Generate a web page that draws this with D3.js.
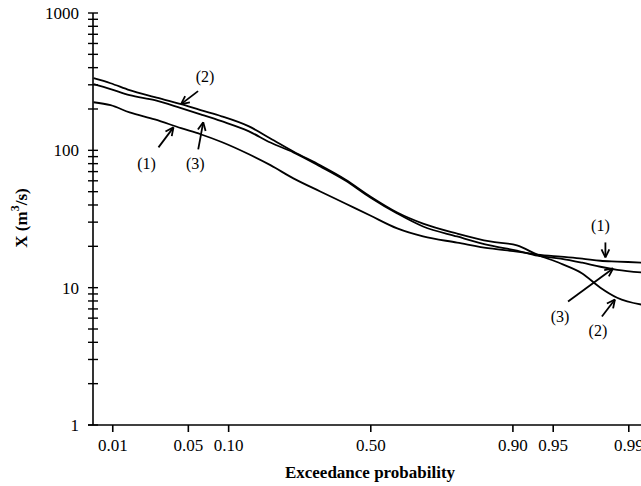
<!DOCTYPE html>
<html>
<head>
<meta charset="utf-8">
<script src="https://cdn.jsdelivr.net/npm/d3@7"></script>
<style>
	body { margin: 0; background: #fff; }
	text { font-family: 'Liberation Serif', 'Times New Roman', serif; }
</style>
</head>
<body>
<div id="chart"></div>
<script>
// exceedance probability of each plotted point
let prob = [0.0063, 0.0096, 0.015, 0.026, 0.044, 0.063, 0.09, 0.136, 0.184, 0.244, 0.326, 0.411,
	0.5, 0.596, 0.683, 0.783, 0.86, 0.907, 0.934, 0.957, 0.972, 0.981, 0.987, 0.993];
// X (m3/s) for each curve
let series1 = [224, 213, 189, 168, 145, 131, 115, 94, 78, 62.5, 50.2, 41.0,
	33.5, 27.0, 23.6, 21.3, 19.3, 18.3, 17.4, 16.8, 16.3, 15.7, 15.5, 15.2];
let series2 = [335, 308, 274, 244, 217, 196, 177, 150, 122, 98, 77.8, 61.4,
	46.2, 35.3, 29.3, 24.8, 21.7, 20.3, 17.4, 15.0, 12.7, 10.0, 8.45, 7.5];
let series3 = [303, 279, 252, 232, 203, 183, 163, 138, 114, 96.7, 76.4, 60.4,
	45.4, 34.7, 27.9, 23.6, 20.3, 18.6, 17.1, 16.3, 15.2, 14.2, 13.5, 12.9];

let xTickProbs = [0.01, 0.05, 0.10, 0.50, 0.90, 0.95, 0.99];
let xTickLabels = ['0.01', '0.05', '0.10', '0.50', '0.90', '0.95', '0.99'];
let yLabels = [1, 10, 100, 1000];

// curve labels: name, anchor on curve (prob, X), tail offset, label offset (px)
let notes = [
	{ name: '(2)', p: 0.044, v: 217, tail: [17, -13], lab: [24, -27] },
	{ name: '(1)', p: 0.038, v: 147, tail: [-15, 20], lab: [-27, 37] },
	{ name: '(3)', p: 0.066, v: 160, tail: [-5, 27], lab: [-8, 42] },
	{ name: '(1)', p: 0.983, v: 16.6, tail: [0, -15], lab: [-5, -31] },
	{ name: '(3)', p: 0.9857, v: 13.8, tail: [-45, 33], lab: [-53, 49] },
	{ name: '(2)', p: 0.9863, v: 8.2, tail: [-13, 17], lab: [-17, 31] }
];

// inverse standard normal (Acklam)
function probit(p) {
	const a = [-3.969683028665376e+01, 2.209460984245205e+02, -2.759285104469687e+02, 1.383577518672690e+02, -3.066479806614716e+01, 2.506628277459239e+00];
	const b = [-5.447609879822406e+01, 1.615858368580409e+02, -1.556989798598866e+02, 6.680131188771972e+01, -1.328068155288572e+01];
	const c = [-7.784894002430293e-03, -3.223964580411365e-01, -2.400758277161838e+00, -2.549732539343734e+00, 4.374664141464968e+00, 2.938163982698783e+00];
	const d = [7.784695709041462e-03, 3.224671290700398e-01, 2.445134137142996e+00, 3.754408661907416e+00];
	const pl = 0.02425;
	let q, r;
	if (p < pl) {
		q = Math.sqrt(-2 * Math.log(p));
		return (((((c[0]*q+c[1])*q+c[2])*q+c[3])*q+c[4])*q+c[5]) / ((((d[0]*q+d[1])*q+d[2])*q+d[3])*q+1);
	}
	if (p <= 1 - pl) {
		q = p - 0.5; r = q * q;
		return (((((a[0]*r+a[1])*r+a[2])*r+a[3])*r+a[4])*r+a[5])*q / (((((b[0]*r+b[1])*r+b[2])*r+b[3])*r+b[4])*r+1);
	}
	q = Math.sqrt(-2 * Math.log(1 - p));
	return -(((((c[0]*q+c[1])*q+c[2])*q+c[3])*q+c[4])*q+c[5]) / ((((d[0]*q+d[1])*q+d[2])*q+d[3])*q+1);
}

let svgWidth = 641, svgHeight = 486;
let svg = d3.select('#chart').append('svg')
	.attr('width', svgWidth)
	.attr('height', svgHeight);

// normal probability scale on x, log scale on y
let x = d3.scaleLinear()
	.domain([-2.5, 2.45])
	.range([93, 642]);
let y = d3.scaleLog()
	.domain([1, 1000])
	.range([425, 13]);

let px = p => x(probit(p));

// y axis with crossing ticks
let yAxis = svg.append('g').classed('y-axis', true);
yAxis.append('line')
	.attr('x1', 93).attr('x2', 93)
	.attr('y1', y(1)).attr('y2', y(1000))
	.attr('stroke', 'black')
	.attr('stroke-width', 1.6);
yAxis.selectAll('line.tick')
	.data(y.ticks())
	.enter()
	.append('line')
	.classed('tick', true)
	.attr('x1', 88).attr('x2', 98)
	.attr('y1', d => y(d)).attr('y2', d => y(d))
	.attr('stroke', 'black')
	.attr('stroke-width', 1.4);
yAxis.selectAll('text')
	.data(yLabels)
	.enter()
	.append('text')
	.attr('x', 79)
	.attr('y', d => y(d) + 6)
	.attr('text-anchor', 'end')
	.attr('font-size', '17px')
	.text(d => d);

// x axis
let xAxis = svg.append('g')
	.classed('x-axis', true)
	.attr('transform', `translate(0, ${y(1)})`)
	.call(d3.axisBottom(x)
		.tickValues(xTickProbs.map(probit))
		.tickFormat((d, i) => xTickLabels[i])
		.tickSize(7)
		.tickSizeOuter(0)
		.tickPadding(7));
xAxis.select('.domain')
	.attr('d', `M88,0H642`)
	.attr('stroke-width', 1.6);
xAxis.selectAll('.tick line').attr('stroke-width', 1.6);
xAxis.selectAll('.tick text')
	.attr('font-family', "'Liberation Serif', serif")
	.attr('font-size', '17px')
	.attr('fill', 'black');

// axis titles
svg.append('text')
	.attr('x', 370)
	.attr('y', 478)
	.attr('text-anchor', 'middle')
	.attr('font-size', '17px')
	.attr('font-weight', 'bold')
	.text('Exceedance probability');

let yTitle = svg.append('text')
	.attr('transform', 'translate(27, 218) rotate(-90)')
	.attr('text-anchor', 'middle')
	.attr('font-size', '17px')
	.attr('font-weight', 'bold');
yTitle.append('tspan').text('X (m');
yTitle.append('tspan').attr('dy', -8).attr('font-size', '12px').text('3');
yTitle.append('tspan').attr('dy', 8).text('/s)');

// curves
let line = d3.line()
	.x(d => px(d[0]))
	.y(d => y(d[1]))
	.curve(d3.curveMonotoneX);

svg.append('defs').append('clipPath')
	.attr('id', 'plotClip')
	.append('rect')
	.attr('x', 93).attr('y', 0)
	.attr('width', svgWidth - 93).attr('height', 425);

let body = svg.append('g').attr('clip-path', 'url(#plotClip)');
[series1, series2, series3].forEach(s => {
	body.append('path')
		.datum(prob.map((p, i) => [p, s[i]]))
		.attr('d', line)
		.attr('fill', 'none')
		.attr('stroke', 'black')
		.attr('stroke-width', 1.8)
		.attr('stroke-linejoin', 'round');
});

// labelled arrows
let ann = svg.append('g').classed('notes', true);
notes.forEach(n => {
	let tx = px(n.p), ty = y(n.v);
	let sx = tx + n.tail[0], sy = ty + n.tail[1];
	let ang = Math.atan2(ty - sy, tx - sx);
	let head = 9, spread = 0.45;
	let g = ann.append('g')
		.attr('stroke', 'black')
		.attr('stroke-width', 1.8)
		.attr('fill', 'none');
	g.append('line').attr('x1', sx).attr('y1', sy).attr('x2', tx).attr('y2', ty);
	[-spread, spread].forEach(s => {
		g.append('line')
			.attr('x1', tx).attr('y1', ty)
			.attr('x2', tx - head * Math.cos(ang + s))
			.attr('y2', ty - head * Math.sin(ang + s));
	});
	ann.append('text')
		.attr('x', tx + n.lab[0])
		.attr('y', ty + n.lab[1] + 5)
		.attr('text-anchor', 'middle')
		.attr('font-size', '16px')
		.text(n.name);
});
</script>
</body>
</html>
